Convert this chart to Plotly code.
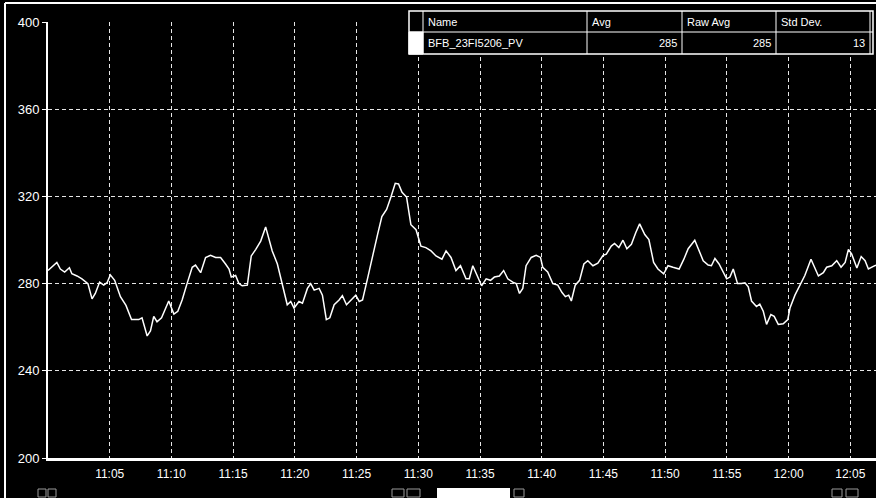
import plotly.graph_objects as go

# ---- trend data: BFB_23FI5206_PV -------------------------------------------
trend_date = "2008-01-01"
sample_times = [
    "11:00:00", "11:00:43", "11:01:00", "11:01:21", "11:01:44", "11:01:56", "11:02:21", "11:02:45",
    "11:03:14", "11:03:34", "11:03:50", "11:04:11", "11:04:31", "11:04:47", "11:05:03", "11:05:24",
    "11:05:52", "11:06:19", "11:06:46", "11:07:21", "11:07:37", "11:08:02", "11:08:18", "11:08:34",
    "11:08:50", "11:09:12", "11:09:47", "11:10:12", "11:10:31", "11:10:52", "11:11:16", "11:11:41",
    "11:11:57", "11:12:22", "11:12:46", "11:13:10", "11:13:35", "11:13:59", "11:14:23", "11:14:40",
    "11:14:51", "11:15:12", "11:15:28", "11:15:44", "11:16:09", "11:16:28", "11:16:50", "11:17:14",
    "11:17:38", "11:17:54", "11:18:10", "11:18:35", "11:18:59", "11:19:23", "11:19:40", "11:19:56",
    "11:20:20", "11:20:37", "11:21:01", "11:21:17", "11:21:34", "11:21:58", "11:22:14", "11:22:33",
    "11:22:50", "11:23:11", "11:23:35", "11:23:51", "11:24:11", "11:24:32", "11:24:56", "11:25:13",
    "11:25:29", "11:25:53", "11:26:17", "11:26:42", "11:27:03", "11:27:26", "11:27:47", "11:28:08",
    "11:28:24", "11:28:41", "11:29:03", "11:29:24", "11:29:49", "11:30:13", "11:30:37", "11:31:02",
    "11:31:26", "11:31:55", "11:32:15", "11:32:39", "11:33:03", "11:33:25", "11:33:52", "11:34:08",
    "11:34:25", "11:34:49", "11:35:08", "11:35:30", "11:35:51", "11:36:10", "11:36:34", "11:36:55",
    "11:37:15", "11:37:39", "11:37:56", "11:38:12", "11:38:28", "11:38:44", "11:39:09", "11:39:33",
    "11:39:54", "11:40:05", "11:40:29", "11:40:54", "11:41:18", "11:41:38", "11:41:55", "11:42:11",
    "11:42:24", "11:42:43", "11:43:04", "11:43:25", "11:43:44", "11:44:09", "11:44:33", "11:44:58",
    "11:45:14", "11:45:38", "11:45:54", "11:46:15", "11:46:35", "11:46:54", "11:47:16", "11:47:37",
    "11:47:56", "11:48:21", "11:48:41", "11:49:04", "11:49:25", "11:49:53", "11:50:14", "11:50:38",
    "11:51:08", "11:51:31", "11:51:52", "11:52:24", "11:52:45", "11:53:05", "11:53:29", "11:53:45",
    "11:54:02", "11:54:22", "11:54:59", "11:55:15", "11:55:31", "11:55:52", "11:56:11", "11:56:28",
    "11:56:44", "11:57:00", "11:57:24", "11:57:40", "11:57:57", "11:58:13", "11:58:34", "11:58:50",
    "11:59:10", "11:59:34", "11:59:56", "12:00:07", "12:00:31", "12:00:56", "12:01:19", "12:01:49",
    "12:02:08", "12:02:25", "12:02:49", "12:03:05", "12:03:30", "12:03:54", "12:04:15", "12:04:35",
    "12:04:51", "12:05:07", "12:05:32", "12:05:53", "12:06:12", "12:06:28", "12:06:52", "12:07:05",
]
flow_values = [
    286.0, 289.7, 286.7, 285.3, 287.3, 284.5, 283.5, 282.2,
    280.0, 273.0, 275.5, 280.7, 279.3, 280.4, 284.0, 281.5,
    274.0, 270.0, 263.5, 263.5, 264.3, 256.0, 258.3, 265.0,
    262.5, 264.3, 272.0, 266.0, 267.3, 272.5, 280.0, 287.5,
    288.5, 285.0, 292.0, 293.0, 292.0, 292.0, 289.0, 286.7,
    283.0, 283.7, 280.0, 279.0, 279.3, 292.7, 295.7, 299.5,
    306.0, 301.0, 295.0, 289.0, 280.0, 270.3, 271.8, 268.8,
    271.8, 271.0, 277.8, 280.0, 277.0, 277.8, 274.7, 263.5,
    264.3, 270.3, 272.5, 274.5, 270.3, 272.5, 274.7, 271.8,
    272.5, 282.2, 292.7, 302.5, 310.7, 314.0, 319.7, 326.0,
    325.7, 321.9, 319.7, 307.0, 304.7, 297.2, 296.5, 295.0,
    292.7, 291.2, 295.0, 292.0, 286.0, 288.2, 282.2, 282.2,
    288.2, 283.0, 279.0, 282.2, 281.5, 283.0, 283.5, 286.0,
    282.2, 280.7, 280.0, 275.5, 277.8, 288.2, 292.0, 293.0,
    292.0, 287.5, 285.3, 280.0, 279.3, 276.0, 274.0, 274.7,
    272.0, 279.3, 281.5, 289.0, 290.5, 288.2, 289.4, 293.0,
    293.5, 297.2, 298.4, 296.5, 299.9, 296.0, 298.0, 303.3,
    307.4, 302.5, 300.2, 289.7, 286.7, 284.5, 288.2, 287.5,
    286.7, 291.2, 296.0, 299.9, 295.0, 290.5, 288.5, 288.2,
    291.5, 289.0, 282.2, 283.0, 286.7, 280.0, 280.0, 280.4,
    278.5, 272.0, 269.5, 270.6, 267.3, 261.3, 265.8, 265.0,
    261.3, 261.6, 263.5, 268.8, 274.7, 279.3, 283.7, 291.2,
    286.7, 283.5, 285.0, 287.5, 288.2, 290.5, 287.5, 289.7,
    295.7, 293.5, 287.2, 292.4, 290.5, 286.7, 287.9, 288.5,
]

y_ticks = [200, 240, 280, 320, 360, 400]
x_tick_labels = ["11:05", "11:10", "11:15", "11:20", "11:25", "11:30", "11:35",
                 "11:40", "11:45", "11:50", "11:55", "12:00", "12:05"]
view_start, view_end = "11:00:00", "12:07:05"

# statistics box
table_header = ["Name", "Avg", "Raw Avg", "Std Dev."]
table_row = ["BFB_23FI5206_PV", "285", "285", "13"]

# ---- figure geometry (pixels) ---------------------------------------------
W, H = 876, 498
PL, PR, PT, PB = 48, 876, 22, 458


def px(x):
    return (x - PL) / (PR - PL)


def py(y):
    return (PB - y) / (PB - PT)


FONT = "Liberation Sans, Arial, sans-serif"
x_vals = [f"{trend_date} {t}" for t in sample_times]

fig = go.Figure()
fig.add_trace(go.Scatter(
    x=x_vals, y=flow_values, mode="lines",
    line=dict(color="white", width=1.5),
    hoverinfo="skip", showlegend=False,
))

fig.update_layout(
    width=W, height=H,
    margin=dict(l=PL, r=W - PR, t=PT, b=H - PB, pad=0),
    paper_bgcolor="black", plot_bgcolor="black",
    font=dict(family=FONT, color="white", size=12),
    showlegend=False,
)
fig.update_xaxes(
    type="date",
    range=[f"{trend_date} {view_start}", f"{trend_date} {view_end}"],
    tickmode="array",
    tickvals=[f"{trend_date} {t}:00" for t in x_tick_labels],
    ticktext=x_tick_labels,
    ticks="", ticklabelstandoff=3,
    tickfont=dict(size=12, color="white"),
    showgrid=True, gridcolor="rgba(255,255,255,0.9)", gridwidth=1, griddash="4px,3px",
    showline=True, linecolor="white", linewidth=3,
    zeroline=False, fixedrange=True,
)
fig.update_yaxes(
    range=[200, 400],
    tickmode="array", tickvals=y_ticks, ticktext=[str(v) for v in y_ticks],
    ticks="outside", ticklen=4, tickcolor="white", tickwidth=1,
    tickfont=dict(size=13, color="white"),
    showgrid=True, gridcolor="rgba(255,255,255,0.9)", gridwidth=1, griddash="4px,3px",
    showline=True, linecolor="white", linewidth=2,
    zeroline=False, fixedrange=True,
)

shapes = []
annotations = []

# window frame
shapes.append(dict(type="line", xref="paper", yref="paper",
                   x0=px(5), x1=px(876), y0=py(3), y1=py(3),
                   line=dict(color="white", width=2)))
shapes.append(dict(type="line", xref="paper", yref="paper",
                   x0=px(5), x1=px(5), y0=py(3), y1=py(498),
                   line=dict(color="white", width=2)))

# statistics table
tx0, tx1, ty0, ty_mid, ty1 = 409, 873, 11, 32, 54
col_edges = [409, 423, 587, 682, 776, 870]
shapes.append(dict(type="rect", xref="paper", yref="paper", layer="above",
                   x0=px(tx0), x1=px(tx1), y0=py(ty1), y1=py(ty0),
                   fillcolor="black", line=dict(color="white", width=1.5)))
shapes.append(dict(type="rect", xref="paper", yref="paper", layer="above",
                   x0=px(col_edges[0]), x1=px(col_edges[1]), y0=py(ty1), y1=py(ty_mid),
                   fillcolor="white", line=dict(color="white", width=1)))
shapes.append(dict(type="line", xref="paper", yref="paper", layer="above",
                   x0=px(tx0), x1=px(tx1), y0=py(ty_mid), y1=py(ty_mid),
                   line=dict(color="white", width=1)))
for cx in col_edges[1:]:
    shapes.append(dict(type="line", xref="paper", yref="paper", layer="above",
                       x0=px(cx), x1=px(cx), y0=py(ty1), y1=py(ty0),
                       line=dict(color="white", width=1)))

for i, label in enumerate(table_header):
    annotations.append(dict(xref="paper", yref="paper", x=px(col_edges[i + 1] + 3),
                            y=py((ty0 + ty_mid) / 2), text=label, showarrow=False,
                            xanchor="left", yanchor="middle",
                            font=dict(family=FONT, size=11, color="white")))
for i, val in enumerate(table_row):
    if i == 0:
        annotations.append(dict(xref="paper", yref="paper", x=px(col_edges[1] + 3),
                                y=py((ty_mid + ty1) / 2), text=val, showarrow=False,
                                xanchor="left", yanchor="middle",
                                font=dict(family=FONT, size=11, color="white")))
    else:
        annotations.append(dict(xref="paper", yref="paper", x=px(col_edges[i + 2] - 3),
                                y=py((ty_mid + ty1) / 2), text=val, showarrow=False,
                                xanchor="right", yanchor="middle",
                                font=dict(family=FONT, size=11, color="white")))

# scroll strip below the time axis
shapes.append(dict(type="rect", xref="paper", yref="paper",
                   x0=px(437), x1=px(510), y0=py(498), y1=py(488),
                   fillcolor="white", line=dict(color="white", width=0)))
for gx0, gx1 in [(38, 46), (48, 56), (392, 404), (407, 420), (514, 524), (832, 842), (846, 858)]:
    shapes.append(dict(type="rect", xref="paper", yref="paper",
                       x0=px(gx0), x1=px(gx1), y0=py(497), y1=py(489),
                       fillcolor="rgba(0,0,0,0)", line=dict(color="#9a9a9a", width=1)))

fig.update_layout(shapes=shapes, annotations=annotations)
fig.write_html("out.html", config={"displayModeBar": False})
